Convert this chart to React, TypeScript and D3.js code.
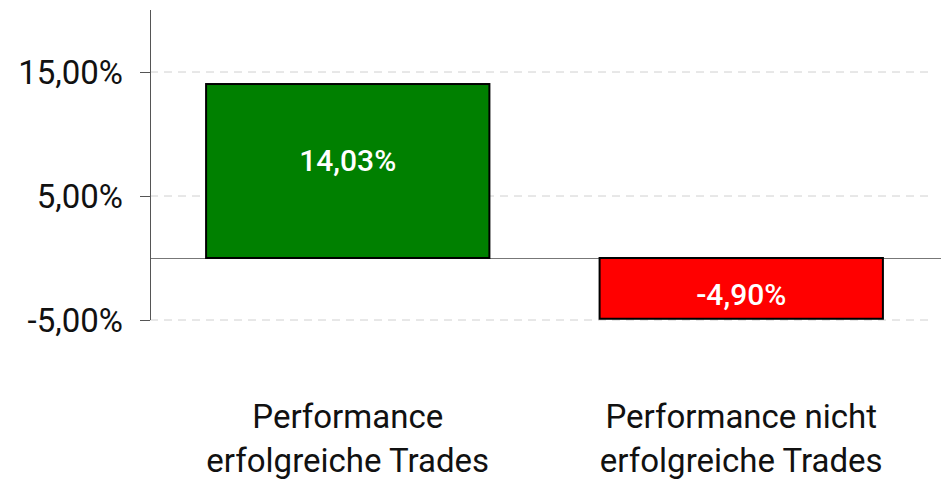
import React from 'react';
import * as d3 from 'd3';

const categories = ['Performance|erfolgreiche Trades', 'Performance nicht|erfolgreiche Trades'];
const values = [14.03, -4.9];
const barColors = ['#008000', '#ff0000'];
const tickValues = [-5, 5, 15];

const width = 941;
const height = 479;
const FONT = 'Roboto, sans-serif';

const fmt = (v: number) => v.toFixed(2).replace('.', ',') + '%';

const App = () => {
  const x = d3.scaleBand<string>()
    .domain(categories)
    .range([151, 938])
    .paddingInner(0.28)
    .paddingOuter(0.14);

  const y = d3.scaleLinear().domain([-5, 20]).range([320, 10]);

  return (
    <svg width={width} height={height} style={{ position: 'absolute', left: 0, top: 0 }}>
      {/* grid */}
      {tickValues.map(t => (
        <line key={'g' + t} x1={150} x2={930} y1={y(t)} y2={y(t)}
          stroke="#d0d0d0" strokeWidth={1} strokeDasharray="8,6" />
      ))}
      {/* zero line */}
      <line x1={150} x2={width} y1={y(0) + 0.5} y2={y(0) + 0.5} stroke="#777" strokeWidth={1} />
      {/* y axis */}
      <line x1={150.5} x2={150.5} y1={y(20)} y2={y(-5)} stroke="#555" strokeWidth={1} />
      {tickValues.map(t => (
        <g key={'t' + t}>
          <line x1={140} x2={150} y1={y(t) + 0.5} y2={y(t) + 0.5} stroke="#555" strokeWidth={1} />
          <text x={123} y={y(t)} dy="0.36em" textAnchor="end" fontFamily={FONT}
            fontSize={33} fill="#111">{fmt(t)}</text>
        </g>
      ))}
      {/* bars */}
      {categories.map((c, i) => {
        const v = values[i];
        const top = y(Math.max(0, v));
        const bottom = y(Math.min(0, v));
        const cx = x(c)! + x.bandwidth() / 2;
        const mid = (top + bottom) / 2;
        return (
          <g key={c}>
            <rect x={x(c)!} y={top} width={x.bandwidth()} height={bottom - top}
              fill={barColors[i]} stroke="#000" strokeWidth={2} />
            <text x={cx} y={mid} dy={v >= 0 ? '0' : '0.55em'} textAnchor="middle"
              fontFamily={FONT} fontWeight={500} fontSize={30} fill="#fff">{fmt(v)}</text>
          </g>
        );
      })}
      {/* category labels */}
      {categories.map(c => {
        const cx = x(c)! + x.bandwidth() / 2;
        return (
          <text key={'l' + c} x={cx} textAnchor="middle" fontFamily={FONT} fontSize={33} fill="#111">
            {c.split('|').map((line, j) => (
              <tspan key={j} x={cx} y={428 + j * 44}>{line}</tspan>
            ))}
          </text>
        );
      })}
    </svg>
  );
};

export default App;
